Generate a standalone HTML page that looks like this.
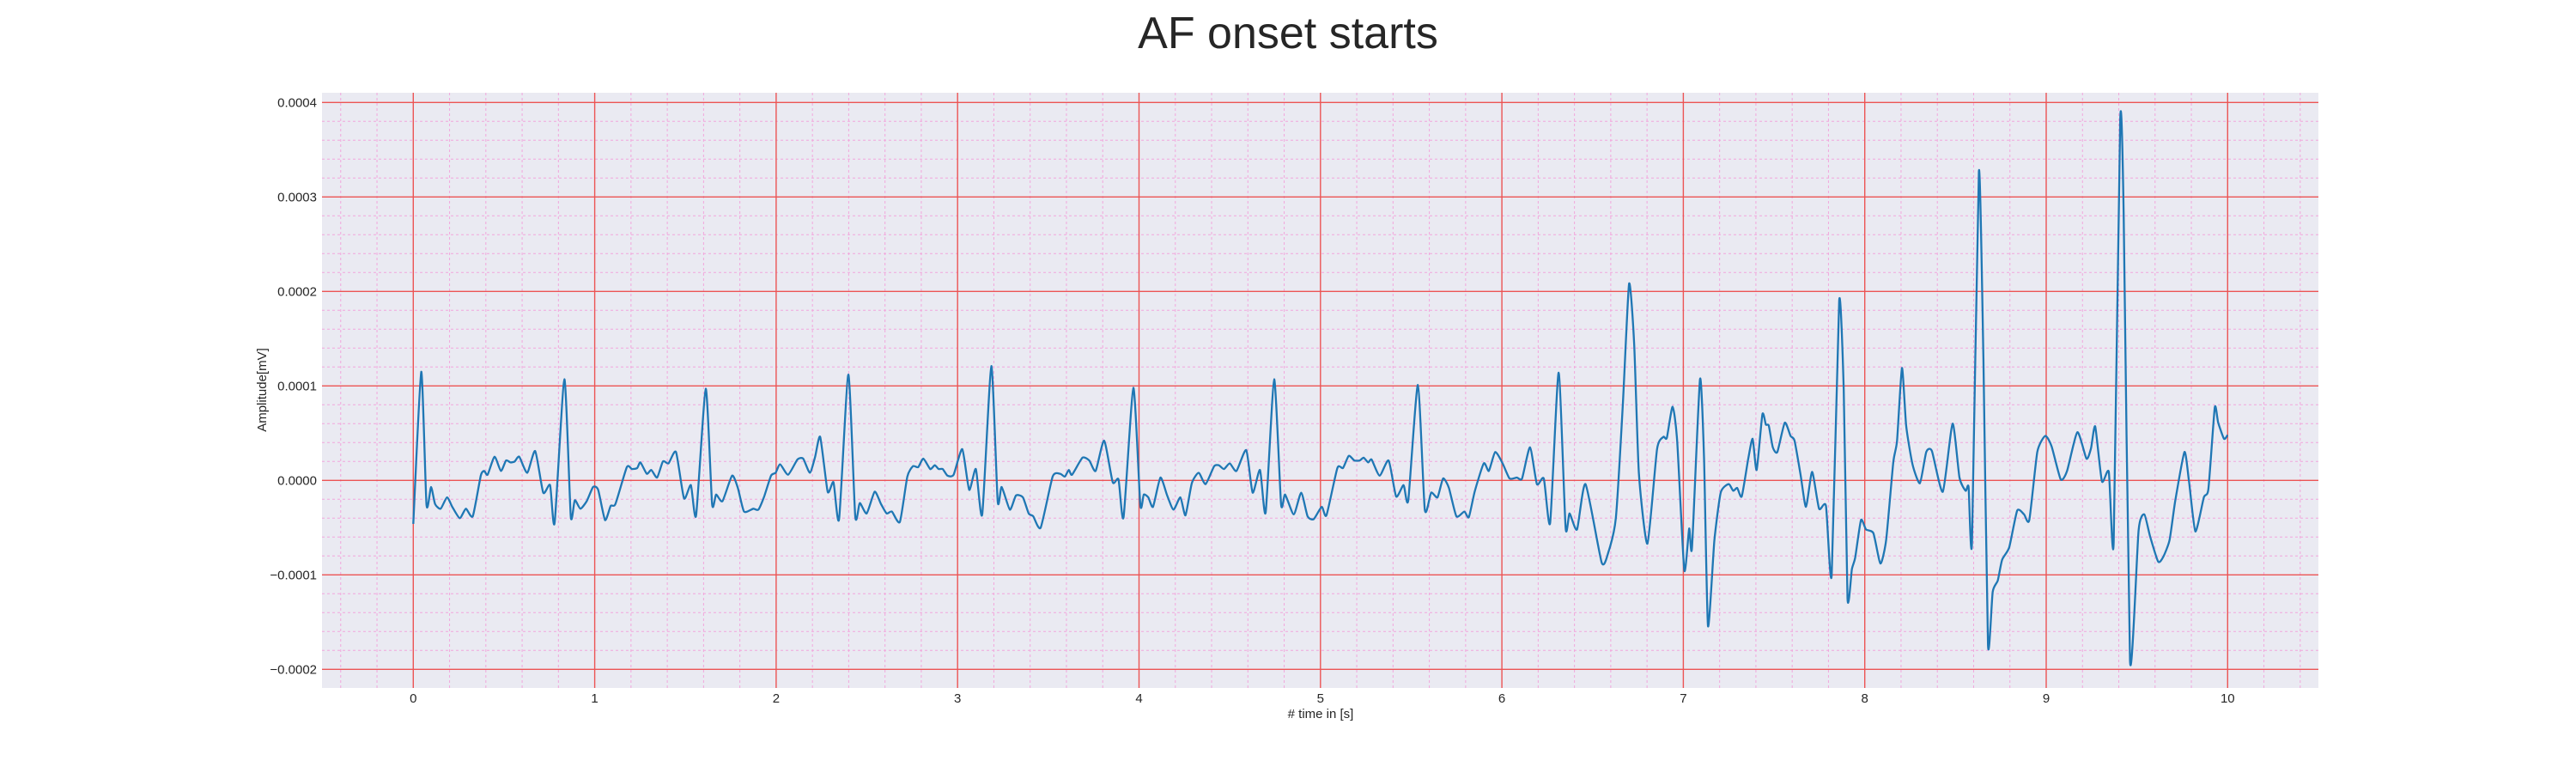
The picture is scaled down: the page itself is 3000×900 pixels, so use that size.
<!DOCTYPE html>
<html><head><meta charset="utf-8"><style>
html,body{margin:0;padding:0;background:#fff;}
svg{display:block;font-family:"Liberation Sans",Arial,sans-serif;}
</style></head><body>
<svg id="chart" width="3000" height="900" viewBox="0 0 3000 900">
<text x="1500" y="56" text-anchor="middle" font-size="52" fill="#262626">AF onset starts</text>
<rect x="375" y="108" width="2325" height="693" fill="#eaeaf2"/>
<g id="grid"></g>
<g id="ticks"></g>
<path id="line" fill="none" stroke="#1f77b4" stroke-width="2.3" stroke-linejoin="round"/>
<text x="1538" y="836" text-anchor="middle" font-size="15" fill="#262626"># time in [s]</text>
<text x="310" y="454" text-anchor="middle" font-size="15" fill="#262626" transform="rotate(-90 310 454)">Amplitude[mV]</text>
</svg>
<script>
const xTicks = [0,1,2,3,4,5,6,7,8,9,10];
const yTicks = [0.0004,0.0003,0.0002,0.0001,0,-0.0001,-0.0002];
const yTickLabels = ["0.0004","0.0003","0.0002","0.0001","0.0000","\u22120.0001","\u22120.0002"];
const ampUnit = 1e-4;
const times = [0,.044,.073,.098,.12,.151,.186,.215,.256,.29,.328,.372,.391,.41,.448,.483,.511,.536,.559,.584,.628,.672,.716,.754,.779,.833,.868,.89,.921,.956,.991,1.019,1.057,1.088,1.114,1.177,1.205,1.234,1.252,1.287,1.312,1.344,1.376,1.407,1.448,1.492,1.53,1.559,1.612,1.647,1.669,1.704,1.757,1.789,1.823,1.874,1.902,1.934,1.972,1.997,2.022,2.066,2.117,2.149,2.186,2.215,2.243,2.284,2.316,2.347,2.398,2.436,2.461,2.499,2.543,2.578,2.609,2.638,2.682,2.723,2.754,2.783,2.811,2.849,2.874,2.896,2.918,2.944,2.978,3.026,3.064,3.101,3.136,3.186,3.221,3.243,3.288,3.322,3.36,3.392,3.417,3.458,3.524,3.565,3.591,3.613,3.631,3.688,3.726,3.761,3.808,3.855,3.887,3.915,3.969,4.007,4.026,4.051,4.077,4.118,4.155,4.19,4.228,4.256,4.291,4.329,4.367,4.414,4.44,4.468,4.5,4.537,4.591,4.626,4.667,4.698,4.745,4.783,4.805,4.853,4.894,4.929,4.963,5.007,5.033,5.093,5.124,5.156,5.187,5.216,5.238,5.263,5.282,5.326,5.376,5.417,5.458,5.484,5.537,5.575,5.61,5.645,5.676,5.708,5.749,5.793,5.818,5.85,5.9,5.928,5.963,6.004,6.042,6.083,6.111,6.155,6.193,6.231,6.266,6.313,6.351,6.373,6.414,6.461,6.55,6.587,6.628,6.666,6.701,6.729,6.755,6.802,6.855,6.89,6.909,6.941,6.966,7.005,7.032,7.048,7.092,7.114,7.136,7.171,7.206,7.25,7.275,7.297,7.322,7.357,7.382,7.404,7.436,7.455,7.471,7.493,7.518,7.559,7.591,7.613,7.647,7.676,7.71,7.748,7.786,7.818,7.859,7.884,7.905,7.929,7.947,7.979,8.007,8.048,8.086,8.118,8.157,8.178,8.205,8.228,8.263,8.304,8.339,8.37,8.43,8.484,8.522,8.556,8.572,8.591,8.629,8.654,8.679,8.705,8.733,8.757,8.796,8.84,8.878,8.907,8.951,8.995,9.03,9.08,9.115,9.172,9.222,9.247,9.27,9.307,9.345,9.372,9.408,9.427,9.462,9.509,9.541,9.572,9.617,9.645,9.68,9.711,9.762,9.787,9.822,9.869,9.894,9.929,9.948,9.98,10.0];
const amps = [-.46,1.15,-.26,-.07,-.25,-.30,-.18,-.28,-.40,-.30,-.38,.05,.10,.06,.25,.10,.21,.19,.20,.25,.08,.31,-.13,-.05,-.45,1.07,-.38,-.21,-.30,-.22,-.07,-.10,-.42,-.27,-.25,.14,.12,.13,.19,.07,.11,.03,.20,.18,.30,-.19,-.05,-.37,.97,-.25,-.15,-.22,.05,-.08,-.33,-.30,-.31,-.17,.05,.08,.17,.06,.22,.23,.08,.25,.46,-.12,-.02,-.41,1.12,-.38,-.24,-.35,-.12,-.25,-.35,-.33,-.44,.04,.15,.14,.23,.12,.16,.12,.12,.05,.06,.33,-.10,.12,-.36,1.21,-.22,-.07,-.31,-.16,-.18,-.35,-.38,-.50,.04,.07,.04,.11,.06,.24,.21,.10,.42,-.02,.01,-.39,.98,-.26,-.15,-.18,-.28,.03,-.16,-.31,-.18,-.37,-.03,.08,-.04,.15,.16,.12,.18,.10,.32,-.13,.11,-.34,1.07,-.25,-.15,-.36,-.13,-.38,-.41,-.28,-.37,.13,.13,.26,.21,.21,.24,.19,.22,.05,.21,-.17,-.05,-.21,1.01,-.31,-.13,-.18,.02,-.08,-.38,-.33,-.39,-.12,.18,.10,.30,.18,.02,.03,.02,.35,-.04,.02,-.45,1.14,-.50,-.35,-.52,-.04,-.87,-.76,-.40,.78,2.08,1.45,.08,-.67,.33,.46,.45,.78,.42,-.95,-.51,-.71,1.07,.24,-1.54,-.64,-.13,-.04,-.11,-.08,-.17,.22,.44,.11,.70,.59,.58,.35,.30,.61,.47,.42,.05,-.28,.09,-.30,-.27,-1.00,1.90,.96,-1.25,-.94,-.82,-.42,-.52,-.56,-.88,-.63,.19,.42,1.19,.58,.17,-.03,.30,.31,-.12,.60,.03,-.11,-.07,-.65,3.27,1.28,-1.74,-1.18,-1.06,-.84,-.71,-.32,-.36,-.42,.30,.47,.36,.01,.10,.51,.23,.34,.57,-.01,.09,-.65,3.82,2.83,-1.91,-.53,-.36,-.59,-.86,-.81,-.63,-.22,.30,-.01,-.54,-.18,-.09,.77,.61,.44,.48];

const X0 = 481.3, PXS = 211.3, Y0 = 559.3, PXV = 1100000;
const L = 375, R = 2700, T = 108, B = 801;
function sx(t){ return X0 + t*PXS; }
function sy(v){ return Y0 - v*PXV; }
const NS = 'http://www.w3.org/2000/svg';
const grid = document.getElementById('grid');
const ticks = document.getElementById('ticks');
function ln(x1,y1,x2,y2,stroke,w,dash){
  const e = document.createElementNS(NS,'line');
  e.setAttribute('x1',x1);e.setAttribute('y1',y1);e.setAttribute('x2',x2);e.setAttribute('y2',y2);
  e.setAttribute('stroke',stroke);e.setAttribute('stroke-width',w);
  if(dash) e.setAttribute('stroke-dasharray',dash);
  grid.appendChild(e);
  return e;
}
for(let i=-2;i<=52;i++){
  if(i%5===0) continue;
  const x = sx(i*0.2);
  if(x<L||x>R) continue;
  const e = ln(x,T,x,B,'#f2a6dc',1,'3,3');
  
  
}
for(let i=-11;i<=21;i++){
  if(i%5===0) continue;
  const y = sy(i*0.00002);
  if(y<T||y>B) continue;
  const e = ln(L,y,R,y,'#f2a6dc',1,'3,3');
  
  
}
xTicks.forEach(t=>{
  const x = sx(t);
  const e = ln(x,T,x,B,'#ec5454',1.4);
  
  
  const tx = document.createElementNS(NS,'text');
  tx.setAttribute('x',x);tx.setAttribute('y',818);tx.setAttribute('text-anchor','middle');
  tx.setAttribute('font-size','15');tx.setAttribute('fill','#262626');
  tx.textContent = String(t);
  
  
  ticks.appendChild(tx);
});
yTicks.forEach((v,i)=>{
  const y = sy(v);
  const e = ln(L,y,R,y,'#ec5454',1.4);
  
  
  const tx = document.createElementNS(NS,'text');
  tx.setAttribute('x',369);tx.setAttribute('y',y+5);tx.setAttribute('text-anchor','end');
  tx.setAttribute('font-size','15');tx.setAttribute('fill','#262626');
  tx.textContent = yTickLabels[i];
  
  
  ticks.appendChild(tx);
});
const pts = times.map((t,i)=>[sx(t), sy(amps[i]*ampUnit)]);
let d = 'M'+pts[0][0].toFixed(1)+','+pts[0][1].toFixed(1);
for(let i=0;i<pts.length-1;i++){
  const p0=pts[Math.max(0,i-1)],p1=pts[i],p2=pts[i+1],p3=pts[Math.min(pts.length-1,i+2)];
  const k=0.1;
  const c1=[p1[0]+(p2[0]-p0[0])*k,p1[1]+(p2[1]-p0[1])*k];
  const c2=[p2[0]-(p3[0]-p1[0])*k,p2[1]-(p3[1]-p1[1])*k];
  d+='C'+c1[0].toFixed(1)+','+c1[1].toFixed(1)+' '+c2[0].toFixed(1)+','+c2[1].toFixed(1)+' '+p2[0].toFixed(1)+','+p2[1].toFixed(1);
}
document.getElementById('line').setAttribute('d',d);
</script>
</body></html>
